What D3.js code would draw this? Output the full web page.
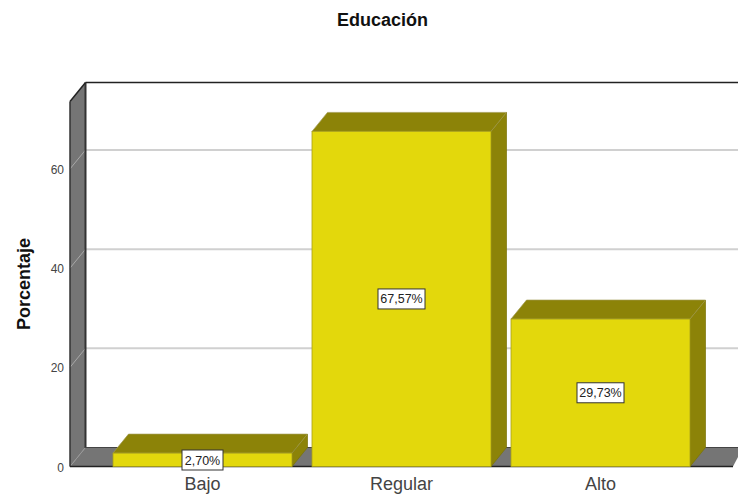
<!DOCTYPE html>
<html><head><meta charset="utf-8">
<script src="https://cdn.jsdelivr.net/npm/d3@7"></script>
<style>html,body{margin:0;padding:0;background:#fff}svg{display:block}text{font-family:"Liberation Sans",Arial,sans-serif}</style>
</head><body><div id="c"></div>
<script>
const categories=["Bajo","Regular","Alto"];
const values=[2.70,67.57,29.73];
const valueLabels=["2,70%","67,57%","29,73%"];
const yTicks=[0,20,40,60];
const title="Educación", yTitle="Porcentaje";
const W=738,H=498,dx=15.5,dy=19;
const svg=d3.select("#c").append("svg").attr("width",W).attr("height",H);
const y=d3.scaleLinear().domain([0,73.6]).range([466.5,101.5]);
const x=d3.scaleBand().domain(categories).range([103,700]).paddingInner(20/199).paddingOuter(10/199);
const L=70,R=733;
const poly=(pts,fill,stroke,sw)=>svg.append("polygon").attr("points",pts.map(p=>p.join(",")).join(" ")).attr("fill",fill).attr("stroke",stroke||"none").attr("stroke-width",sw||0);
const line=(a,b,c,w)=>svg.append("line").attr("x1",a[0]).attr("y1",a[1]).attr("x2",b[0]).attr("y2",b[1]).attr("stroke",c).attr("stroke-width",w);
const y0=y(0),yT=y.range()[1];
// walls
poly([[L,yT],[L+dx,yT-dy],[L+dx,y0-dy],[L,y0]],"#757575");
poly([[L,y0],[L+dx,y0-dy],[W+5,y0-dy],[R,y0]],"#757575");
// gridlines
yTicks.filter(t=>t>0).forEach(t=>{
  line([L,y(t)],[L+dx,y(t)-dy],"#a8a8a8",1);
  line([L+dx,y(t)-dy],[W,y(t)-dy],"#d0d0d0",2);
});
line([L,y0],[L+dx,y0-dy],"#999",1);
// frame
line([L+dx,yT-dy],[L+dx,y0-dy],"#333",2);
line([L+dx-1,y0-dy],[W,y0-dy],"#444",1);
line([L+dx,yT-dy],[W,yT-dy],"#222",1.5);
line([L,yT],[L+dx,yT-dy],"#222",1.5);
line([L,yT],[L,y0],"#333",1.5);
line([L,y0],[R,y0],"#222",1.5);
// bars
const g=categories.map((c,i)=>({c,v:values[i],l:valueLabels[i]}));
g.forEach(d=>{
  const a=x(d.c),b=a+x.bandwidth(),t=y(d.v);
  poly([[b,t],[b+dx,t-dy],[b+dx,y0-dy],[b,y0]],"#8c8308","#7a7207",.7);
  poly([[a,t],[a+dx,t-dy],[b+dx,t-dy],[b,t]],"#8c8308","#a09a50",.7);
  svg.append("rect").attr("x",a).attr("y",t).attr("width",b-a).attr("height",y0-t).attr("fill","#e3d80c").attr("stroke","#a9a11a").attr("stroke-width",.8);
});
// value labels
g.forEach(d=>{
  const cx=x(d.c)+x.bandwidth()/2,cy=d.v<5?460:(y(d.v)+y0)/2;
  const small=d.v<5;
  svg.append("rect").attr("x",small?cx-20.5:cx-23.5).attr("y",cy-10).attr("width",small?41:47).attr("height",20).attr("fill","#fff").attr("stroke","#333").attr("stroke-width",1);
  svg.append("text").attr("x",cx).attr("y",cy+4.5).attr("text-anchor","middle").attr("font-size",12.5).attr("fill","#222").text(d.l);
});
// axes labels
yTicks.forEach(t=>svg.append("text").attr("x",64).attr("y",y(t)+5).attr("text-anchor","end").attr("font-size",12).attr("fill","#444").text(t));
categories.forEach(c=>svg.append("text").attr("x",x(c)+x.bandwidth()/2).attr("y",490).attr("text-anchor","middle").attr("font-size",18).attr("fill","#444").text(c));
svg.append("text").attr("x",382.5).attr("y",26).attr("text-anchor","middle").attr("font-size",18).attr("font-weight","bold").attr("fill","#111").text(title);
svg.append("text").attr("transform","translate(29.5,284) rotate(-90)").attr("text-anchor","middle").attr("font-size",18).attr("font-weight","bold").attr("fill","#111").text(yTitle);
</script></body></html>
